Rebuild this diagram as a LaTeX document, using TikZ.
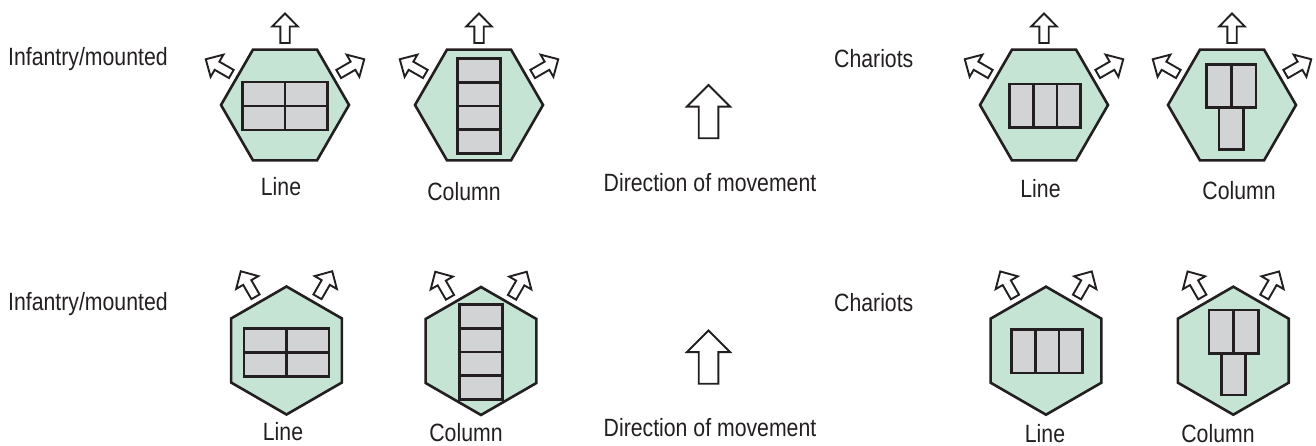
\documentclass[tikz,border=0pt]{standalone}
\usepackage{fontspec}
\setmainfont{Liberation Sans}
\newfontfamily\labfont[FakeStretch=0.85]{Liberation Sans}
\usetikzlibrary{calc}
\definecolor{hexgreen}{RGB}{198,228,211}
\definecolor{cellgray}{RGB}{209,211,212}
\definecolor{ink}{RGB}{35,31,32}
\tikzset{
  hexstyle/.style={draw=ink, fill=hexgreen, line width=2.6pt, line join=miter},
  cellstyle/.style={draw=ink, fill=cellgray, line width=2.8pt},
  arrowstyle/.style={draw=ink, fill=white, line width=1.9pt, line join=miter},
  lab/.style={inner sep=0pt, anchor=base, font=\labfont\fontsize{25}{30}\selectfont, text=ink},
  hexagon/.pic={\draw[hexstyle] (0:64) -- (60:64) -- (120:64) -- (180:64) -- (240:64) -- (300:64) -- cycle;},
  smallarrow/.pic={\draw[arrowstyle] (0,-4.7) -- (16.5,-4.7) -- (16.5,-12.8) -- (29.5,0) -- (16.5,12.8) -- (16.5,4.7) -- (0,4.7) -- cycle;},
  bigarrow/.pic={\draw[arrowstyle] (0,-9.8) -- (31.6,-9.8) -- (31.6,-21.7) -- (53.3,0) -- (31.6,21.7) -- (31.6,9.8) -- (0,9.8) -- cycle;},
  % infantry in line: two ranks of two
  inflines/.pic={
    \draw[cellstyle] (-42.5,-25) rectangle (0,-1);
    \draw[cellstyle] (0,-25) rectangle (42.5,-1);
    \draw[cellstyle] (-42.5,-1) rectangle (0,23);
    \draw[cellstyle] (0,-1) rectangle (42.5,23);},
  % infantry in column: four stands one behind another
  infcolumn/.pic={
    \draw[cellstyle] (-21.5,-48.5) rectangle (21.5,-24.75);
    \draw[cellstyle] (-21.5,-24.75) rectangle (21.5,-1);
    \draw[cellstyle] (-21.5,-1) rectangle (21.5,22.75);
    \draw[cellstyle] (-21.5,22.75) rectangle (21.5,46.5);},
  % chariots in line
  charline/.pic={
    \draw[cellstyle] (-34.7,-22.3) rectangle (-10.9,21);
    \draw[cellstyle] (-10.9,-22.3) rectangle (12.9,21);
    \draw[cellstyle] (12.9,-22.3) rectangle (36.7,21);},
  % chariots in column
  charcolumn/.pic={
    \draw[cellstyle] (-13,-44.3) rectangle (11.3,-2.7);
    \draw[cellstyle] (-25.3,-2.7) rectangle (-0.6,40.7);
    \draw[cellstyle] (-0.6,-2.7) rectangle (24,40.7);},
}
\begin{document}
\begin{tikzpicture}[x=1pt, y=1pt]
\path[use as bounding box] (0,0) rectangle (1316,446);

% hexagon centres: upper row flat-topped, lower row point-topped
\coordinate (H1) at (285,341);
\coordinate (H2) at (479,341);
\coordinate (H3) at (1044,341);
\coordinate (H4) at (1232,341);
\coordinate (H5) at (286.5,95.5);
\coordinate (H6) at (481,95);
\coordinate (H7) at (1046,95.3);
\coordinate (H8) at (1233.3,95.3);

% upper row
\foreach \h in {H1,H2,H3,H4}{
  \pic at (\h) {hexagon};
  \foreach \a in {30,90,150}
    \pic[rotate=\a] at ($(\h)+(\a:62)$) {smallarrow};
}
% lower row
\foreach \h in {H5,H6,H7,H8}{
  \pic[rotate=30] at (\h) {hexagon};
  \foreach \a in {60,120}
    \pic[rotate=\a] at ($(\h)+(\a:62)$) {smallarrow};
}

% formations
\pic at (H1) {inflines};
\pic at (H2) {infcolumn};
\pic at (H3) {charline};
\pic at (H4) {charcolumn};
\pic at ($(H5)+(0,-1)$) {inflines};
\pic at (H6) {infcolumn};
\pic at (H7) {charline};
\pic at ($(H8)+(1,0)$) {charcolumn};

% direction of movement
\coordinate (D1) at (708.5,307.7);
\coordinate (D2) at (708.5,62.2);
\pic[rotate=90] at (D1) {bigarrow};
\pic[rotate=90] at (D2) {bigarrow};

% labels
\node[lab, anchor=base west] (inf1) at (8,380.3) {Infantry/mounted};
\node[lab, anchor=base west] (inf2) at (8,135) {Infantry/mounted};
\node[lab, anchor=base west] (cha1) at (834,378.7) {Chariots};
\node[lab, anchor=base west] (cha2) at (834,134) {Chariots};

\node[lab] (l1) at (281,250) {Line};
\node[lab] (c1) at (464,245) {Column};
\node[lab] (l2) at (1040.5,248) {Line};
\node[lab] (c2) at (1239,246) {Column};
\node[lab] (l3) at (283,5) {Line};
\node[lab] (c3) at (466,4) {Column};
\node[lab] (l4) at (1045,3.5) {Line};
\node[lab] (c4) at (1218,3.5) {Column};

\node[lab] (dm1) at (710,254) {Direction of movement};
\node[lab] (dm2) at (710,9) {Direction of movement};
\end{tikzpicture}
\end{document}
